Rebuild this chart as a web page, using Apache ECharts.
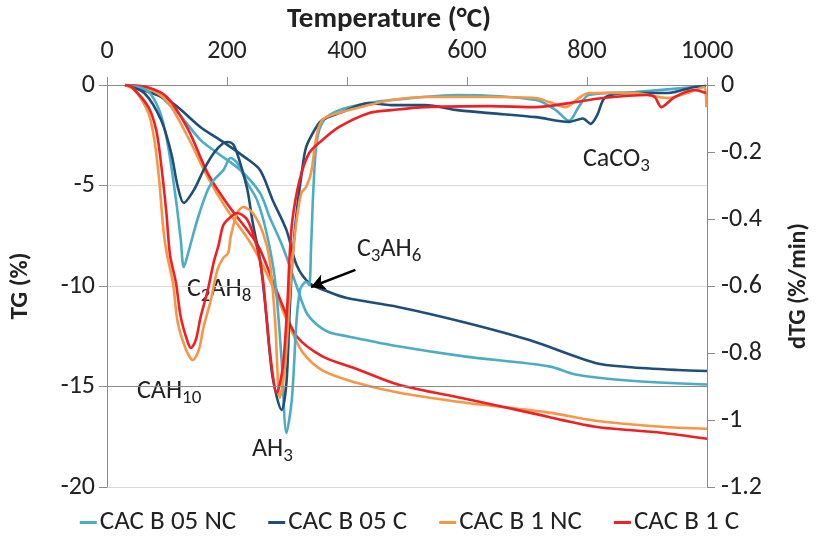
<!DOCTYPE html>
<html>
<head>
<meta charset="utf-8">
<script src="https://cdn.jsdelivr.net/npm/echarts@6/dist/echarts.min.js"></script>
<style>
html,body{margin:0;padding:0;background:#fff;}
#c{width:819px;height:536px;}
</style>
</head>
<body>
<div id="c"></div>
<script>
// ---------- data (Temperature °C, value) ----------
const seriesNames = ['CAC B 05 NC', 'CAC B 05 C', 'CAC B 1 NC', 'CAC B 1 C'];
const xTicks = [0, 200, 400, 600, 800, 1000];

// TG (%) curves, left axis
const tg05NC = [[30,0],[74,-0.25],[118,-1.39],[156,-2.74],[184,-3.38],[222,-4.23],[255,-5.37],[271,-6.57],[293,-8.06],[316,-10.0],[332,-11.3],[349,-11.9],[370,-12.3],[400,-12.5],[485,-13.0],[595,-13.5],[737,-14.0],[781,-14.4],[868,-14.7],[1000,-14.9]];
const tg05C = [[30,0],[102,-0.75],[156,-2.1],[194,-2.84],[230,-3.6],[255,-4.23],[276,-5.72],[299,-7.21],[316,-8.96],[337,-9.85],[370,-10.3],[400,-10.6],[485,-11.04],[595,-11.8],[704,-12.69],[814,-13.83],[868,-14.03],[951,-14.18],[1000,-14.23]];
const tg1NC = [[30,0],[66,-0.15],[100,-0.8],[135,-2.6],[168,-4.6],[200,-6.2],[238,-7.8],[260,-9.0],[283,-10.5],[304,-12.0],[326,-13.3],[359,-14.2],[414,-14.8],[485,-15.3],[595,-15.8],[737,-16.3],[814,-16.7],[924,-17.0],[1000,-17.1]];
const tg1C = [[30,0],[66,-0.1],[100,-0.6],[135,-2.2],[168,-4.4],[200,-5.9],[250,-7.9],[271,-9.35],[293,-11.0],[316,-12.5],[359,-13.5],[414,-14.1],[485,-14.9],[595,-15.6],[704,-16.3],[814,-17.0],[924,-17.3],[1000,-17.6]];

// dTG (%/min) curves, right axis
const dtg05NC = [[30,0],[58,-0.009],[74,-0.03],[90,-0.09],[102,-0.185],[115,-0.343],[123,-0.463],[128,-0.543],[137,-0.49],[151,-0.40],[168,-0.313],[178,-0.284],[194,-0.254],[206,-0.218],[217,-0.233],[234,-0.293],[250,-0.343],[266,-0.442],[280,-0.582],[291,-0.821],[299,-1.039],[308,-0.94],[316,-0.70],[322,-0.61],[327,-0.594],[332,-0.588],[337,-0.597],[340,-0.49],[344,-0.31],[350,-0.164],[362,-0.104],[387,-0.075],[436,-0.054],[474,-0.045],[584,-0.03],[715,-0.045],[748,-0.075],[770,-0.107],[786,-0.066],[803,-0.03],[880,-0.021],[979,-0.006],[998,-0.003]];
const dtg05C = [[30,0],[62,-0.024],[90,-0.104],[107,-0.203],[118,-0.304],[128,-0.352],[145,-0.313],[161,-0.254],[178,-0.203],[194,-0.173],[202,-0.170],[211,-0.179],[222,-0.233],[234,-0.313],[243,-0.412],[255,-0.522],[266,-0.693],[276,-0.872],[291,-0.970],[299,-0.890],[304,-0.693],[309,-0.522],[316,-0.382],[324,-0.27],[332,-0.185],[349,-0.125],[359,-0.104],[387,-0.084],[436,-0.054],[474,-0.06],[530,-0.06],[584,-0.075],[638,-0.084],[715,-0.096],[770,-0.11],[793,-0.10],[806,-0.116],[817,-0.09],[831,-0.036],[880,-0.024],[934,-0.024],[979,-0.006],[998,-0.003]];
const dtg1NC = [[30,0],[46,-0.015],[69,-0.084],[79,-0.164],[87,-0.284],[94,-0.433],[100,-0.507],[110,-0.591],[118,-0.710],[132,-0.791],[143,-0.821],[153,-0.791],[161,-0.722],[173,-0.642],[184,-0.552],[194,-0.516],[202,-0.501],[206,-0.454],[217,-0.382],[227,-0.364],[243,-0.382],[260,-0.442],[271,-0.522],[280,-0.70],[288,-0.934],[294,-0.88],[299,-0.791],[304,-0.642],[309,-0.522],[316,-0.403],[324,-0.322],[332,-0.304],[340,-0.263],[349,-0.155],[359,-0.104],[391,-0.081],[436,-0.060],[474,-0.045],[530,-0.036],[638,-0.036],[715,-0.039],[737,-0.051],[765,-0.066],[786,-0.039],[803,-0.024],[880,-0.024],[934,-0.039],[967,-0.024],[995,-0.006],[999,-0.066]];
const dtg1C = [[30,0],[41,-0.006],[69,-0.066],[82,-0.134],[90,-0.233],[99,-0.382],[105,-0.507],[115,-0.591],[123,-0.693],[135,-0.770],[140,-0.785],[148,-0.761],[156,-0.693],[168,-0.612],[178,-0.528],[186,-0.478],[194,-0.418],[206,-0.394],[217,-0.382],[234,-0.403],[250,-0.484],[260,-0.582],[266,-0.70],[271,-0.791],[283,-0.919],[293,-0.842],[301,-0.642],[304,-0.522],[309,-0.403],[321,-0.284],[337,-0.203],[359,-0.164],[387,-0.125],[436,-0.084],[474,-0.075],[530,-0.066],[638,-0.063],[715,-0.066],[770,-0.054],[826,-0.039],[901,-0.030],[913,-0.036],[924,-0.066],[946,-0.036],[979,-0.015],[998,-0.024]];

// annotation arrow (data coords) and darker reference line
const arrowFrom = [414, -9.2];
const arrowTo = [340, -10.05];
const refLineTG = -15;

// ---------- chart ----------
const colors = ['#4BACC6', '#1F4E79', '#F79646', '#EE2024'];
const FONT = 'Carlito, Lato, sans-serif';
const chart = echarts.init(document.getElementById('c'), null, {renderer: 'canvas'});

function lineSeries(name, data, axis, color, extra) {
  return Object.assign({
    name: name, type: 'line', data: data, yAxisIndex: axis,
    showSymbol: false, symbol: 'none', smooth: 0.3,
    lineStyle: {width: 2.6, color: color}, itemStyle: {color: color},
    animation: false, silent: true
  }, extra || {});
}

const series = [
  lineSeries(seriesNames[0], tg05NC, 0, colors[0]),
  lineSeries(seriesNames[1], tg05C, 0, colors[1], {
    markLine: {
      silent: true, animation: false, label: {show: false}, symbol: ['none', 'none'],
      data: [
        {yAxis: refLineTG, lineStyle: {color: '#8a8a8a', width: 1, type: 'solid'}},
        [{coord: arrowFrom, symbol: 'none', lineStyle: {color: '#000', width: 2.5, type: 'solid'}},
         {coord: arrowTo, symbol: 'arrow', symbolSize: [12, 14]}]
      ]
    }
  }),
  lineSeries(seriesNames[2], tg1NC, 0, colors[2]),
  lineSeries(seriesNames[3], tg1C, 0, colors[3]),
  lineSeries(seriesNames[0], dtg05NC, 1, colors[0]),
  lineSeries(seriesNames[1], dtg05C, 1, colors[1]),
  lineSeries(seriesNames[2], dtg1NC, 1, colors[2]),
  lineSeries(seriesNames[3], dtg1C, 1, colors[3])
];

const labelStyle = {fontFamily: FONT, fontSize: 26, color: '#222'};
const axisGray = '#8a8a8a';

function rich(parts, left, top) {
  let s = '';
  parts.forEach(p => { s += '{' + (p[1] ? 's' : 'n') + '|' + p[0] + '}'; });
  return {
    type: 'text', left: left, top: top, silent: true,
    style: {
      text: s, fill: '#222',
      rich: {
        n: {fontFamily: FONT, fontSize: 26, fill: '#222'},
        s: {fontFamily: FONT, fontSize: 19, fill: '#222', padding: [14, 0, 0, 0]}
      }
    }
  };
}

chart.setOption({
  animation: false,
  color: colors,
  title: {
    text: 'Temperature (°C)', left: 384, top: 0, textAlign: 'center',
    textStyle: {fontFamily: FONT, fontSize: 29, fontWeight: 'bold', color: '#222'}
  },
  grid: {left: 105, right: 106, top: 85, bottom: 49, containLabel: false},
  legend: {
    data: seriesNames, top: 504, left: 'center', icon: 'rect',
    itemWidth: 17, itemHeight: 3, itemGap: 32,
    textStyle: {fontFamily: FONT, fontSize: 27, color: '#222', padding: [0, 0, 0, -2]}
  },
  xAxis: {
    type: 'value', position: 'top', min: 0, max: 1000, interval: 200,
    axisLine: {show: true, lineStyle: {color: axisGray}},
    axisTick: {show: true, length: 8, lineStyle: {color: axisGray}},
    axisLabel: Object.assign({margin: 21, formatter: v => String(v)}, labelStyle),
    splitLine: {show: false}
  },
  yAxis: [
    {
      type: 'value', min: -20, max: 0, interval: 5, position: 'left',
      name: 'TG (%)', nameLocation: 'middle', nameRotate: 90, nameGap: 74,
      nameTextStyle: {fontFamily: FONT, fontSize: 25, fontWeight: 'bold', color: '#222'},
      axisLine: {show: true, onZero: false, lineStyle: {color: axisGray}},
      axisTick: {show: true, length: 8, lineStyle: {color: axisGray}},
      axisLabel: Object.assign({margin: 12}, labelStyle),
      splitLine: {show: true, lineStyle: {color: '#d9d9d9', width: 1}}
    },
    {
      type: 'value', min: -1.2, max: 0, interval: 0.2, position: 'right',
      name: 'dTG (%/min)', nameLocation: 'middle', nameRotate: 90, nameGap: 80,
      nameTextStyle: {fontFamily: FONT, fontSize: 24, fontWeight: 'bold', color: '#222'},
      axisLine: {show: true, onZero: false, lineStyle: {color: axisGray}},
      axisTick: {show: true, length: 8, lineStyle: {color: axisGray}},
      axisLabel: Object.assign({margin: 14}, labelStyle),
      splitLine: {show: false}
    }
  ],
  series: series,
  graphic: [
    rich([['C',0],['2',1],['AH',0],['8',1]], 187, 276),
    rich([['CAH',0],['10',1]], 137, 378),
    rich([['AH',0],['3',1]], 252, 436),
    rich([['C',0],['3',1],['AH',0],['6',1]], 357, 236),
    rich([['CaCO',0],['3',1]], 583, 146)
  ]
});
</script>
</body>
</html>
